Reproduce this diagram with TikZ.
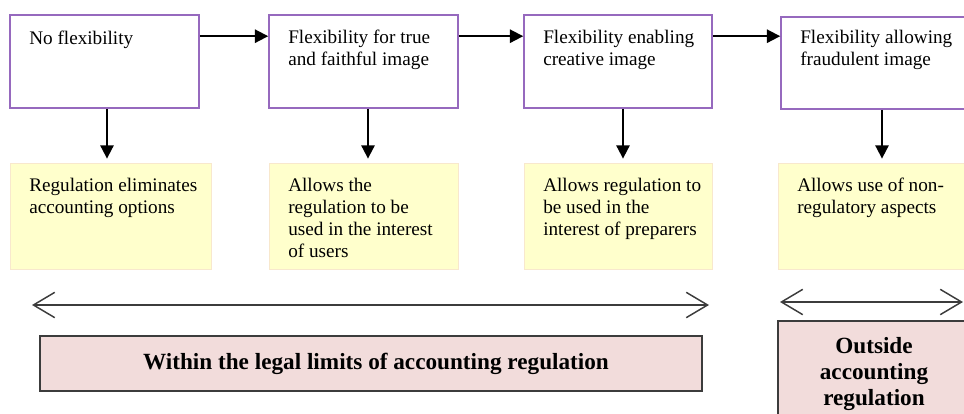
\documentclass[tikz,border=0pt]{standalone}
\usepackage{fontspec}
\setmainfont{Liberation Serif}
\usetikzlibrary{arrows.meta,calc,fit}
\definecolor{boxpurple}{RGB}{150,105,190}
\definecolor{noteyellow}{RGB}{255,255,204}
\definecolor{noteedge}{RGB}{248,232,205}
\definecolor{limitpink}{RGB}{242,220,219}
\definecolor{limitedge}{RGB}{60,60,60}
\definecolor{spanline}{RGB}{60,60,60}
\begin{document}
\begin{tikzpicture}[x=0.75pt,y=-0.75pt,
 topbox/.style={draw=boxpurple, line width=1.2pt, fill=white, inner sep=0pt},
 notebox/.style={fill=noteyellow, draw=noteedge, line width=0.6pt, inner sep=0pt},
 limitbox/.style={fill=limitpink, draw=limitedge, line width=1.1pt, inner sep=0pt},
 boxtext/.style={anchor=north west, inner sep=0pt, align=left, font=\fontsize{14.4pt}{16.5pt}\selectfont},
 limittext/.style={inner sep=0pt, align=center, font=\fontsize{17.4pt}{19.5pt}\selectfont\bfseries},
 arr/.style={-{Triangle[length=10pt,width=10pt]}, line width=1.4pt},
 span/.style={{Straight Barb[length=16pt,width=19pt,line width=1.1pt]}-{Straight Barb[length=16pt,width=19pt,line width=1.1pt]}, line width=2pt, draw=spanline}
]
\useasboundingbox (0,0) rectangle (964,414);
\clip (0,0) rectangle (964,414);

% top boxes
\node[topbox, fit={(10,15) (199,108)}] (b1) {};
\node[topbox, fit={(269,15) (458,108)}] (b2) {};
\node[topbox, fit={(524,15) (712,108)}] (b3) {};
\node[topbox, fit={(781,17) (985,109)}] (b4) {};
\node[boxtext] (t1) at (29,31) {No flexibility};
\node[boxtext] (t2) at (288,30) {Flexibility for true\\and faithful image};
\node[boxtext] (t3) at (543,30) {Flexibility enabling\\creative image};
\node[boxtext] (t4) at (800,30) {Flexibility allowing\\fraudulent image};

% yellow boxes
\node[notebox, fit={(10,163) (211,269)}] (y1) {};
\node[notebox, fit={(269,163) (458,269)}] (y2) {};
\node[notebox, fit={(524,163) (712,269)}] (y3) {};
\node[notebox, fit={(778,163) (985,269)}] (y4) {};
\node[boxtext] (n1) at (29,178) {Regulation eliminates\\accounting options};
\node[boxtext] (n2) at (288,178) {Allows the\\regulation to be\\used in the interest\\of users};
\node[boxtext] (n3) at (543,178) {Allows regulation to\\be used in the\\interest of preparers};
\node[boxtext] (n4) at (797,178) {Allows use of non-\\regulatory aspects};

% horizontal arrows
\draw[arr] ($(b1.north east)+(0,22)$) coordinate (a12) -- (a12 -| b2.west);
\draw[arr] ($(b2.north east)+(0,22)$) coordinate (a23) -- (a23 -| b3.west);
\draw[arr] ($(b3.north east)+(0,22)$) coordinate (a34) -- (a34 -| b4.west);

% vertical arrows
\draw[arr] ($(b1.south)+(2.5,0)$) coordinate (v1) -- ($(v1 |- y1.north)+(0,-4)$);
\draw[arr] ($(b2.south)+(4.5,0)$) coordinate (v2) -- ($(v2 |- y2.north)+(0,-4)$);
\draw[arr] ($(b3.south)+(5,0)$) coordinate (v3) -- ($(v3 |- y3.north)+(0,-4)$);
\draw[arr] ($(b4.south)+(-1,0)$) coordinate (v4) -- ($(v4 |- y4.north)+(0,-4)$);

% span arrows
\coordinate (s1l) at (32,305);
\coordinate (s1r) at (709,305);
\draw[span] (s1l) -- (s1r);
\coordinate (s2l) at (780,302);
\coordinate (s2r) at (963,302);
\draw[span] (s2l) -- (s2r);

% pink boxes
\node[limitbox, fit={(40,336) (702,391)}] (L1) {};
\node[limittext] (L1t) at ($(L1.center)+(5,0)$) {Within the legal limits of accounting regulation};
\node[limitbox, fit={(778,321) (975,440)}] (L2) {};
\node[limittext, anchor=north] (L2t) at (874,337) {Outside\\accounting\\regulation};
\end{tikzpicture}
\end{document}
